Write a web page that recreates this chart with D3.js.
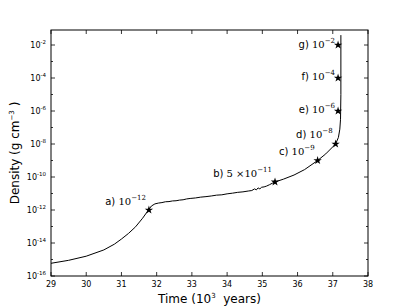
<!DOCTYPE html>
<html>
<head>
<meta charset="utf-8">
<script src="https://cdn.jsdelivr.net/npm/d3@7"></script>
<style>
  body { margin: 0; background: #fff; }
  text { font-family: 'DejaVu Sans', sans-serif; }
  .math { font-family: 'DejaVu Serif', serif; }
</style>
</head>
<body>
<div id="chart"></div>
<script>
// time (10^3 years) and log10 density (g cm^-3)
const times = [29.0, 29.5, 30.0, 30.5, 30.8, 31.0, 31.2, 31.4, 31.6, 31.75, 31.85, 31.95,
  32.05, 32.15, 32.25, 32.35, 32.45, 32.55, 32.65, 32.75, 32.85, 32.95, 33.1, 33.25, 33.4,
  33.55, 33.7, 33.85, 34.0, 34.15, 34.3, 34.45, 34.6, 34.7, 34.78, 34.83, 34.88, 34.93,
  34.98, 35.05, 35.12, 35.2, 35.28, 35.36, 35.6, 35.9, 36.2, 36.57, 36.8, 37.08, 37.16,
  37.2, 37.22, 37.23, 37.23];
const logDensity = [-15.23, -15.05, -14.8, -14.42, -14.07, -13.76, -13.42, -13.02, -12.5,
  -12.05, -11.76, -11.63, -11.58, -11.55, -11.5, -11.49, -11.45, -11.44, -11.4, -11.38,
  -11.33, -11.3, -11.27, -11.22, -11.19, -11.15, -11.1, -11.08, -11.02, -10.98, -10.93,
  -10.9, -10.85, -10.82, -10.72, -10.78, -10.66, -10.72, -10.62, -10.6, -10.55, -10.47,
  -10.38, -10.3, -10.13, -9.88, -9.55, -9.0, -8.6, -8.0, -7.6, -7.1, -6.5, -5.0, -1.4];

// marked points and their labels
const markTimes = [31.78, 35.36, 36.57, 37.08, 37.15, 37.15, 37.15];
const markLogs = [-12, -10.3, -9, -8, -6, -4, -2];
const markLetters = ['a)', 'b)', 'c)', 'd)', 'e)', 'f)', 'g)'];
const markMantissa = ['', '5 \u00d7', '', '', '', '', ''];
const markExps = ['\u221212', '\u221211', '\u22129', '\u22128', '\u22126', '\u22124', '\u22122'];
const labelShift = [-5, -5, -6, -6, 2, 2, 3];

// axis ticks
const xTicks = [29, 30, 31, 32, 33, 34, 35, 36, 37, 38];
const yMajor = [-16, -14, -12, -10, -8, -6, -4, -2];
const yMinor = [-15, -13, -11, -9, -7, -5, -3];

const margin = { top: 30, right: 41, bottom: 31, left: 51 };
const width = 409 - margin.left - margin.right;
const height = 307 - margin.top - margin.bottom;

const svg = d3.select('#chart')
  .append('svg')
  .attr('width', 409)
  .attr('height', 307)
  .append('g')
  .attr('transform', `translate(${margin.left}, ${margin.top})`);

const x = d3.scaleLinear().domain([29, 38]).range([0, width]);
const y = d3.scaleLinear().domain([-16, -1.09]).range([height, 0]);

// ticks pointing inwards on all four sides
const tickG = svg.append('g').attr('stroke', '#000').attr('stroke-width', 0.8);
xTicks.forEach(t => {
  tickG.append('line').attr('x1', x(t)).attr('x2', x(t)).attr('y1', height).attr('y2', height - 4);
  tickG.append('line').attr('x1', x(t)).attr('x2', x(t)).attr('y1', 0).attr('y2', 4);
});
yMajor.forEach(v => {
  tickG.append('line').attr('x1', 0).attr('x2', 4).attr('y1', y(v)).attr('y2', y(v));
  tickG.append('line').attr('x1', width).attr('x2', width - 4).attr('y1', y(v)).attr('y2', y(v));
});
yMinor.forEach(v => {
  tickG.append('line').attr('x1', 0).attr('x2', 2).attr('y1', y(v)).attr('y2', y(v));
  tickG.append('line').attr('x1', width).attr('x2', width - 2).attr('y1', y(v)).attr('y2', y(v));
});

// tick labels
svg.append('g')
  .selectAll('text')
  .data(xTicks)
  .join('text')
  .attr('x', d => x(d))
  .attr('y', height + 11)
  .attr('text-anchor', 'middle')
  .style('font-size', '8px')
  .text(d => d);

const yLab = svg.append('g')
  .selectAll('text')
  .data(yMajor)
  .join('text')
  .attr('x', -5)
  .attr('y', d => y(d) + 3)
  .attr('text-anchor', 'end')
  .style('font-size', '8px');
yLab.append('tspan').text('10');
yLab.append('tspan').attr('dy', -4).style('font-size', '5.5px').text(d => d);

// curve
const pts = times.map((t, i) => [t, logDensity[i]]);
svg.append('path')
  .datum(pts)
  .attr('fill', 'none')
  .attr('stroke', '#000')
  .attr('stroke-width', 1)
  .attr('d', d3.line().x(d => x(d[0])).y(d => y(d[1])));

// star markers
svg.append('g')
  .selectAll('path')
  .data(markTimes)
  .join('path')
  .attr('transform', (d, i) => `translate(${x(d)}, ${y(markLogs[i])})`)
  .attr('d', d3.symbol().type(d3.symbolStar).size(22))
  .attr('fill', '#000');

// point labels
const lab = svg.append('g')
  .selectAll('text')
  .data(markTimes)
  .join('text')
  .attr('x', d => x(d) - 3)
  .attr('y', (d, i) => y(markLogs[i]) + labelShift[i])
  .attr('text-anchor', 'end')
  .style('font-size', '10px');
lab.append('tspan').text((d, i) => markLetters[i] + ' ');
lab.append('tspan').attr('class', 'math').text((d, i) => markMantissa[i] + '10');
lab.append('tspan').attr('class', 'math').attr('dy', -5).style('font-size', '7px')
  .text((d, i) => markExps[i]);

// frame
svg.append('rect')
  .attr('width', width)
  .attr('height', height)
  .attr('fill', 'none')
  .attr('stroke', '#000')
  .attr('stroke-width', 1);

// axis titles
const xt = svg.append('text')
  .attr('x', width / 2)
  .attr('y', height + 27)
  .attr('text-anchor', 'middle')
  .style('font-size', '12px');
xt.append('tspan').text('Time (10');
xt.append('tspan').attr('dy', -5).style('font-size', '7px').text('3');
xt.append('tspan').attr('dy', 5).text('\u00a0 years)');

const yt = svg.append('text')
  .attr('transform', `translate(-32, ${height / 2}) rotate(-90)`)
  .attr('text-anchor', 'middle')
  .style('font-size', '12px');
yt.append('tspan').text('Density (g cm');
yt.append('tspan').attr('dy', -5).style('font-size', '7px').text('\u22123');
yt.append('tspan').attr('dy', 5).text(' )');
</script>
</body>
</html>
